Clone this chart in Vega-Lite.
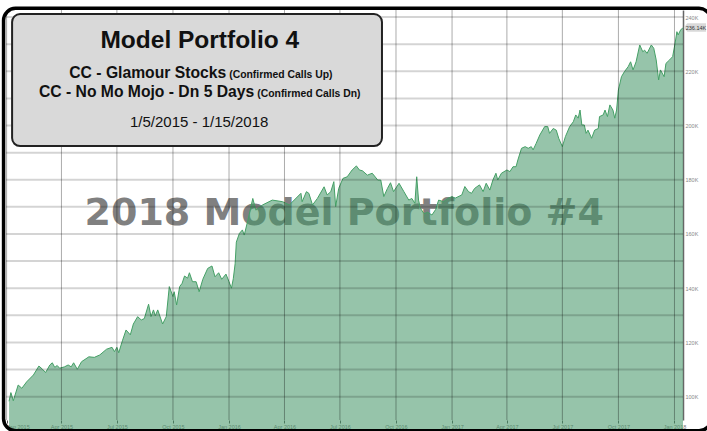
{
  "$schema": "https://vega.github.io/schema/vega-lite/v6.json",
  "width": 677,
  "height": 410,
  "autosize": {"type": "none"},
  "padding": {"left": 6, "top": 10, "right": 24, "bottom": 11},
  "background": "#ffffff",
  "config": {"view": {"stroke": null}},
  "datasets": {
    "series": [
      {"date":"2015-01-05","value":98300},{"date":"2015-01-08","value":101500},{"date":"2015-01-12","value":98500},{"date":"2015-01-20","value":104300},{"date":"2015-01-26","value":103100},{"date":"2015-02-03","value":105500},{"date":"2015-02-14","value":108000},{"date":"2015-02-23","value":111300},{"date":"2015-03-01","value":110100},{"date":"2015-03-06","value":108900},{"date":"2015-03-13","value":111700},{"date":"2015-03-17","value":112500},{"date":"2015-03-21","value":110800},{"date":"2015-03-25","value":111500},{"date":"2015-03-29","value":110500},{"date":"2015-04-06","value":111000},{"date":"2015-04-12","value":111700},{"date":"2015-04-17","value":111000},{"date":"2015-04-21","value":112500},{"date":"2015-04-27","value":110100},{"date":"2015-05-04","value":112900},{"date":"2015-05-16","value":114700},{"date":"2015-05-25","value":114500},{"date":"2015-06-03","value":115400},{"date":"2015-06-14","value":117500},{"date":"2015-06-23","value":118200},{"date":"2015-06-27","value":116600},{"date":"2015-07-01","value":118200},{"date":"2015-07-04","value":116200},{"date":"2015-07-10","value":120600},{"date":"2015-07-16","value":124600},{"date":"2015-07-23","value":122800},{"date":"2015-07-28","value":126800},{"date":"2015-08-04","value":129500},{"date":"2015-08-10","value":128300},{"date":"2015-08-15","value":128800},{"date":"2015-08-22","value":134100},{"date":"2015-08-26","value":129500},{"date":"2015-08-30","value":132000},{"date":"2015-09-02","value":129800},{"date":"2015-09-06","value":132000},{"date":"2015-09-14","value":126800},{"date":"2015-09-20","value":129500},{"date":"2015-09-25","value":140600},{"date":"2015-10-01","value":136900},{"date":"2015-10-03","value":138700},{"date":"2015-10-07","value":133800},{"date":"2015-10-12","value":140600},{"date":"2015-10-16","value":141800},{"date":"2015-10-20","value":144500},{"date":"2015-10-25","value":143700},{"date":"2015-10-28","value":145700},{"date":"2015-11-02","value":142400},{"date":"2015-11-08","value":142400},{"date":"2015-11-13","value":138700},{"date":"2015-11-19","value":143300},{"date":"2015-11-27","value":147300},{"date":"2015-12-04","value":148200},{"date":"2015-12-09","value":144200},{"date":"2015-12-15","value":145700},{"date":"2015-12-20","value":143300},{"date":"2015-12-27","value":145200},
      {"date":"2016-01-01","value":142400},{"date":"2016-01-05","value":140000},{"date":"2016-01-08","value":143500},{"date":"2016-01-11","value":149000},{"date":"2016-01-13","value":157000},{"date":"2016-01-18","value":160200},{"date":"2016-01-23","value":161500},{"date":"2016-01-26","value":159600},{"date":"2016-02-01","value":165100},{"date":"2016-02-09","value":173100},{"date":"2016-02-14","value":168800},{"date":"2016-02-25","value":170700},{"date":"2016-03-12","value":172500},{"date":"2016-03-29","value":171900},{"date":"2016-04-09","value":170700},{"date":"2016-04-28","value":175000},{"date":"2016-04-30","value":171900},{"date":"2016-05-07","value":175600},{"date":"2016-05-11","value":175000},{"date":"2016-05-17","value":170700},{"date":"2016-05-25","value":173100},{"date":"2016-06-05","value":177400},{"date":"2016-06-10","value":174400},{"date":"2016-06-16","value":175600},{"date":"2016-06-21","value":179300},{"date":"2016-06-24","value":170100},{"date":"2016-06-29","value":176800},{"date":"2016-07-06","value":180500},{"date":"2016-07-13","value":181100},{"date":"2016-07-21","value":183600},{"date":"2016-07-28","value":185100},{"date":"2016-08-02","value":183600},{"date":"2016-08-07","value":183300},{"date":"2016-08-15","value":181700},{"date":"2016-08-23","value":182400},{"date":"2016-09-01","value":179900},{"date":"2016-09-06","value":179900},{"date":"2016-09-11","value":173800},{"date":"2016-09-17","value":176800},{"date":"2016-09-22","value":178900},{"date":"2016-09-27","value":175600},{"date":"2016-10-06","value":178700},{"date":"2016-10-14","value":175600},{"date":"2016-10-22","value":172500},{"date":"2016-10-27","value":173100},{"date":"2016-11-01","value":171300},{"date":"2016-11-04","value":181100},{"date":"2016-11-07","value":172500},{"date":"2016-11-10","value":169500},{"date":"2016-11-16","value":167500},{"date":"2016-11-22","value":168000},{"date":"2016-11-29","value":167000},{"date":"2016-12-05","value":169000},{"date":"2016-12-10","value":172500},{"date":"2016-12-18","value":171900},{"date":"2016-12-26","value":173200},
      {"date":"2017-01-01","value":173800},{"date":"2017-01-06","value":173200},{"date":"2017-01-17","value":174400},{"date":"2017-01-22","value":177500},{"date":"2017-01-28","value":175600},{"date":"2017-02-02","value":175000},{"date":"2017-02-07","value":176800},{"date":"2017-02-15","value":178100},{"date":"2017-02-21","value":175600},{"date":"2017-02-26","value":178700},{"date":"2017-03-04","value":176200},{"date":"2017-03-09","value":179900},{"date":"2017-03-14","value":182400},{"date":"2017-03-17","value":179900},{"date":"2017-03-23","value":182400},{"date":"2017-04-01","value":183600},{"date":"2017-04-06","value":183000},{"date":"2017-04-11","value":184800},{"date":"2017-04-16","value":184800},{"date":"2017-04-19","value":187300},{"date":"2017-04-25","value":191600},{"date":"2017-05-01","value":192200},{"date":"2017-05-06","value":191600},{"date":"2017-05-11","value":192200},{"date":"2017-05-14","value":191000},{"date":"2017-05-19","value":193400},{"date":"2017-05-25","value":196500},{"date":"2017-06-02","value":199600},{"date":"2017-06-07","value":199600},{"date":"2017-06-10","value":197100},{"date":"2017-06-16","value":198900},{"date":"2017-06-21","value":198300},{"date":"2017-06-25","value":195300},{"date":"2017-07-01","value":192200},{"date":"2017-07-06","value":195900},{"date":"2017-07-13","value":199600},{"date":"2017-07-19","value":201400},{"date":"2017-07-23","value":203900},{"date":"2017-07-27","value":202700},{"date":"2017-07-30","value":205700},{"date":"2017-08-02","value":200200},{"date":"2017-08-06","value":200200},{"date":"2017-08-09","value":197100},{"date":"2017-08-12","value":198300},{"date":"2017-08-18","value":195300},{"date":"2017-08-23","value":198300},{"date":"2017-08-29","value":198900},{"date":"2017-08-31","value":203300},{"date":"2017-09-06","value":203900},{"date":"2017-09-09","value":205700},{"date":"2017-09-13","value":203300},{"date":"2017-09-17","value":207600},{"date":"2017-09-22","value":205700},{"date":"2017-09-25","value":202700},{"date":"2017-09-28","value":205700},{"date":"2017-10-01","value":213100},{"date":"2017-10-06","value":218000},{"date":"2017-10-11","value":219900},{"date":"2017-10-17","value":221700},{"date":"2017-10-21","value":223500},{"date":"2017-10-25","value":220500},{"date":"2017-10-30","value":223500},{"date":"2017-11-05","value":229700},{"date":"2017-11-10","value":227200},{"date":"2017-11-13","value":227800},{"date":"2017-11-17","value":226600},{"date":"2017-11-24","value":229700},{"date":"2017-11-28","value":228500},{"date":"2017-12-02","value":224200},{"date":"2017-12-06","value":216800},{"date":"2017-12-09","value":220500},{"date":"2017-12-15","value":218000},{"date":"2017-12-18","value":222900},{"date":"2017-12-24","value":224200},{"date":"2017-12-29","value":225400},
      {"date":"2018-01-02","value":230300},{"date":"2018-01-05","value":234600},{"date":"2018-01-07","value":233400},{"date":"2018-01-11","value":235200},{"date":"2018-01-15","value":236100}
    ],
    "xticks": [
      {"tick":"2015-01-01"},{"tick":"2015-04-01"},{"tick":"2015-07-01"},{"tick":"2015-10-01"},
      {"tick":"2016-01-01"},{"tick":"2016-04-01"},{"tick":"2016-07-01"},{"tick":"2016-10-01"},
      {"tick":"2017-01-01"},{"tick":"2017-04-01"},{"tick":"2017-07-01"},{"tick":"2017-10-01"},
      {"tick":"2018-01-01"}
    ],
    "yticks": [
      {"level":100000},{"level":110000},{"level":120000},{"level":130000},{"level":140000},{"level":150000},{"level":160000},{"level":170000},{"level":180000},{"level":190000},{"level":200000},{"level":210000},{"level":220000},{"level":230000},{"level":240000}
    ],
    "one": [{}]
  },
  "layer": [
    {
      "data": {"name": "one"},
      "mark": {"type": "text", "text": "2018 Model Portfolio #4", "font": "DejaVu Sans", "fontWeight": "bold", "fontSize": 38, "align": "center", "baseline": "alphabetic", "color": "#808080"},
      "encoding": {
        "x": {"datum": {"year": 2016, "month": 7, "date": 8}, "type": "temporal"},
        "y": {"datum": 163300, "type": "quantitative"}
      }
    },
    {
      "data": {"name": "series", "format": {"parse": {"date": "date:'%Y-%m-%d'"}}},
      "mark": {"type": "area", "color": "#449667", "fillOpacity": 0.56, "line": {"color": "#45a066", "strokeWidth": 1}},
      "encoding": {
        "x": {
          "field": "date", "type": "temporal",
          "scale": {"domain": [{"year": 2014, "month": 12, "date": 31}, {"year": 2018, "month": 1, "date": 15}]},
          "axis": {
            "title": null,
            "values": [
              {"year": 2015, "month": 1, "date": 1}, {"year": 2015, "month": 4, "date": 1}, {"year": 2015, "month": 7, "date": 1}, {"year": 2015, "month": 10, "date": 1},
              {"year": 2016, "month": 1, "date": 1}, {"year": 2016, "month": 4, "date": 1}, {"year": 2016, "month": 7, "date": 1}, {"year": 2016, "month": 10, "date": 1},
              {"year": 2017, "month": 1, "date": 1}, {"year": 2017, "month": 4, "date": 1}, {"year": 2017, "month": 7, "date": 1}, {"year": 2017, "month": 10, "date": 1},
              {"year": 2018, "month": 1, "date": 1}
            ],
            "format": "%b %Y",
            "labelFontSize": 5.5,
            "labelColor": "#777777",
            "labelPadding": 1,
            "labelFont": "Liberation Sans",
            "labelOverlap": false,
            "tickColor": "#555555",
            "tickSize": 3,
            "domain": false,
            "grid": false
          }
        },
        "y": {
          "field": "value", "type": "quantitative",
          "scale": {"domain": [91400, 242600], "zero": false, "nice": false},
          "axis": {
            "title": null,
            "orient": "right",
            "values": [100000, 110000, 120000, 130000, 140000, 150000, 160000, 170000, 180000, 190000, 200000, 210000, 220000, 230000, 240000],
            "labelExpr": "(datum.value / 1000) + 'K'",
            "labelFontSize": 5.5,
            "labelColor": "#888888",
            "labelFont": "Liberation Sans",
            "labelPadding": 2,
            "ticks": false,
            "domain": true,
            "domainColor": "#666666",
            "domainWidth": 1.5,
            "grid": false
          }
        }
      }
    },
    {
      "data": {"name": "yticks"},
      "mark": {"type": "rule", "color": "#000000", "opacity": 0.17, "strokeWidth": 2},
      "encoding": {"y": {"field": "level", "type": "quantitative"}}
    },
    {
      "data": {"name": "xticks", "format": {"parse": {"tick": "date:'%Y-%m-%d'"}}},
      "mark": {"type": "rule", "color": "#000000", "opacity": 0.33, "strokeWidth": 1},
      "encoding": {"x": {"field": "tick", "type": "temporal"}}
    },
    {
      "data": {"name": "one"},
      "mark": {"type": "rect", "fill": "#d9d9d9", "stroke": "#222222", "strokeWidth": 2, "cornerRadius": 8},
      "encoding": {
        "x": {"datum": {"year": 2015, "month": 1, "date": 10}, "type": "temporal"},
        "x2": {"datum": {"year": 2016, "month": 9, "date": 8}},
        "y": {"datum": 241100, "type": "quantitative"},
        "y2": {"datum": 192400}
      }
    },
    {
      "data": {"name": "one"},
      "mark": {"type": "text", "text": "Model Portfolio 4", "font": "Liberation Sans", "fontWeight": "bold", "fontSize": 24.5, "align": "center", "baseline": "alphabetic", "color": "#111111"},
      "encoding": {
        "x": {"datum": {"year": 2015, "month": 11, "date": 14}, "type": "temporal"},
        "y": {"datum": 228600, "type": "quantitative"}
      }
    },
    {
      "data": {"name": "one"},
      "mark": {"type": "text", "text": "CC - Glamour Stocks", "font": "Liberation Sans", "fontWeight": "bold", "fontSize": 15.7, "align": "right", "baseline": "alphabetic", "dx": -1, "color": "#111111"},
      "encoding": {
        "x": {"datum": {"year": 2015, "month": 12, "date": 29}, "type": "temporal"},
        "y": {"datum": 217500, "type": "quantitative"}
      }
    },
    {
      "data": {"name": "one"},
      "mark": {"type": "text", "text": "(Confirmed Calls Up)", "font": "Liberation Sans", "fontWeight": "bold", "fontSize": 10.4, "align": "left", "baseline": "alphabetic", "dx": 2, "color": "#111111"},
      "encoding": {
        "x": {"datum": {"year": 2015, "month": 12, "date": 29}, "type": "temporal"},
        "y": {"datum": 217500, "type": "quantitative"}
      }
    },
    {
      "data": {"name": "one"},
      "mark": {"type": "text", "text": "CC - No Mo Mojo - Dn 5 Days", "font": "Liberation Sans", "fontWeight": "bold", "fontSize": 15.7, "align": "right", "baseline": "alphabetic", "dx": -1, "color": "#111111"},
      "encoding": {
        "x": {"datum": {"year": 2016, "month": 2, "date": 13}, "type": "temporal"},
        "y": {"datum": 210600, "type": "quantitative"}
      }
    },
    {
      "data": {"name": "one"},
      "mark": {"type": "text", "text": "(Confirmed Calls Dn)", "font": "Liberation Sans", "fontWeight": "bold", "fontSize": 10.4, "align": "left", "baseline": "alphabetic", "dx": 2, "color": "#111111"},
      "encoding": {
        "x": {"datum": {"year": 2016, "month": 2, "date": 13}, "type": "temporal"},
        "y": {"datum": 210600, "type": "quantitative"}
      }
    },
    {
      "data": {"name": "one"},
      "mark": {"type": "text", "text": "1/5/2015 - 1/15/2018", "font": "Liberation Sans", "fontSize": 15, "align": "center", "baseline": "alphabetic", "color": "#111111"},
      "encoding": {
        "x": {"datum": {"year": 2015, "month": 11, "date": 13}, "type": "temporal"},
        "y": {"datum": 199600, "type": "quantitative"}
      }
    },
    {
      "data": {"name": "one"},
      "mark": {"type": "point", "shape": "M-1,0L-0.7,-0.38L1,-0.38L1,0.38L-0.7,0.38Z", "size": 484, "filled": true, "color": "#d9d9d9", "opacity": 1, "xOffset": 12},
      "encoding": {
        "x": {"datum": {"year": 2018, "month": 1, "date": 15}, "type": "temporal"},
        "y": {"datum": 236140, "type": "quantitative"}
      }
    },
    {
      "data": {"name": "one"},
      "mark": {"type": "text", "text": "236.14K", "font": "Liberation Sans", "fontSize": 5.5, "align": "center", "baseline": "middle", "color": "#333333", "xOffset": 13},
      "encoding": {
        "x": {"datum": {"year": 2018, "month": 1, "date": 15}, "type": "temporal"},
        "y": {"datum": 236140, "type": "quantitative"}
      }
    },
    {
      "data": {"name": "one"},
      "mark": {"type": "rect", "filled": false, "stroke": "#000000", "strokeWidth": 3.5, "cornerRadius": 12},
      "encoding": {
        "x": {"datum": {"year": 2014, "month": 12, "date": 27}, "type": "temporal"},
        "x2": {"datum": {"year": 2018, "month": 3, "date": 2}},
        "y": {"datum": 243200, "type": "quantitative"},
        "y2": {"datum": 87400}
      }
    }
  ]
}
